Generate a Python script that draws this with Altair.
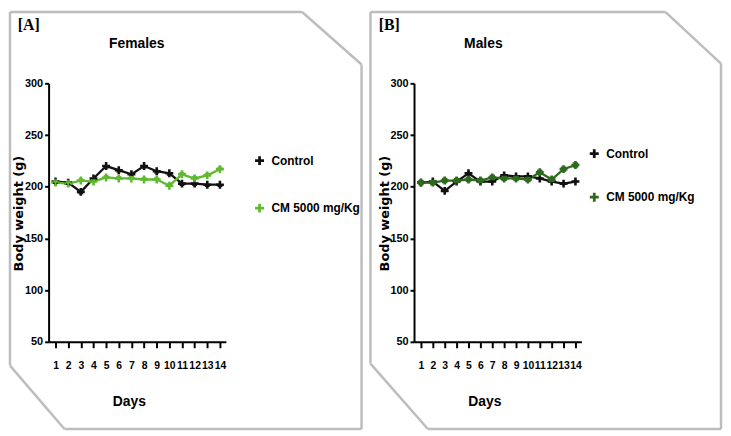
import altair as alt
import pandas as pd

# ---------------- data ----------------
days = list(range(1, 15))
series_names = ["Control", "CM 5000 mg/Kg"]
female_control = [205, 204, 195, 208, 220, 216, 212, 220, 215, 213, 203, 203, 202, 202]
female_cm = [204, 203, 206, 205, 209, 208, 208, 207, 207, 201, 212, 208, 211, 217]
male_control = [204, 205, 196, 205, 213, 205, 205, 211, 210, 210, 208, 205, 203, 205]
male_cm = [204, 204, 206, 206, 207, 206, 209, 208, 208, 207, 214, 207, 217, 221]
y_ticks = [50, 100, 150, 200, 250, 300]
panel_tags = ["[A]", "[B]"]
panel_titles = ["Females", "Males"]
x_title = "Days"
y_title = "Body weight (g)"


def make_df(ctrl, cm):
    return pd.DataFrame({
        "day": days * 2,
        "weight": ctrl + cm,
        "series": [series_names[0]] * len(days) + [series_names[1]] * len(days),
    })


female_df = make_df(female_control, female_cm)
male_df = make_df(male_control, male_cm)

SANS = "Liberation Sans, Arial, sans-serif"
PLUS = "M-1,0L1,0M0,-1L0,1"
FRAME = "#bdbdbd"
H = 426
one = pd.DataFrame({"k": [0]})


def seg(x1, y1, x2, y2):
    return alt.Chart(one).mark_rule(color=FRAME, strokeWidth=2.5).encode(
        x=alt.value(x1), y=alt.value(y1), x2=alt.value(x2), y2=alt.value(y2)
    )


def label(text, x, y, font, size):
    return alt.Chart(pd.DataFrame({"t": [text]})).mark_text(
        font=font, fontSize=size, fontWeight="bold", align="center",
        baseline="middle", color="black"
    ).encode(text="t:N", x=alt.value(x), y=alt.value(y))


def panel(df, colors, shapes, g, idx):
    xs = alt.Scale(domain=g["xdom"], range=g["xrange"], nice=False, zero=False)
    ys = alt.Scale(domain=[50, 300], range=[335, 74], nice=False, zero=False)
    cs = alt.Scale(domain=series_names, range=colors)
    leg = alt.Legend(
        title=None, orient="none", legendX=g["legX"], legendY=g["legY"],
        symbolType=PLUS, symbolSize=81, symbolStrokeWidth=2.8,
        symbolFillColor="transparent",
        labelFont=SANS, labelFontSize=12, labelFontWeight="bold",
        labelColor="black", rowPadding=g["rowPad"], labelOffset=6, padding=0,
    )
    xax = alt.Axis(
        values=days, offset=-(H - 335), title=x_title, titleX=g["xtitleX"], titleY=60,
        titleAlign="center", titleBaseline="middle", titleFont=SANS,
        titleFontSize=14, titleFontWeight="bold", titleColor="black",
        tickSize=6, tickWidth=2, tickColor="black", domainWidth=2, domainColor="black",
        labelFont=SANS, labelFontSize=10.5, labelFontWeight="bold", labelColor="black",
        labelPadding=13, labelOverlap=False, labelFlush=False, grid=False,
    )
    yax = alt.Axis(
        values=y_ticks, offset=g["yoff"], title=y_title, titleX=-30, titleY=205,
        titleAlign="center", titleBaseline="middle", titleFont="DejaVu Sans",
        titleFontSize=13, titleFontWeight="bold", titleColor="black",
        tickSize=4, tickWidth=2, tickColor="black", domainWidth=2, domainColor="black",
        labelFont=SANS, labelFontSize=11, labelFontWeight="bold", labelColor="black",
        labelPadding=2, labelOverlap=False, labelFlush=False, grid=False,
    )
    base = alt.Chart(df).encode(
        x=alt.X("day:Q", scale=xs, axis=xax),
        y=alt.Y("weight:Q", scale=ys, axis=yax),
        color=alt.Color("series:N", scale=cs, legend=leg),
    )
    line = base.mark_line(strokeWidth=2.3)
    plus = base.mark_point(shape=PLUS, size=64, filled=False, strokeWidth=2.6, opacity=1)
    marker_layers = []
    for name, col, shp in zip(series_names, colors, shapes):
        marker_layers.append(
            alt.Chart(df).transform_filter(alt.datum.series == name)
            .mark_point(filled=True, size=30, opacity=1, shape=shp, color=col)
            .encode(x=alt.X("day:Q", scale=xs, axis=xax), y=alt.Y("weight:Q", scale=ys, axis=yax))
        )
    frame = [seg(*s) for s in g["frame"]]
    return alt.layer(
        *frame, line, plus, *marker_layers,
        label(panel_tags[idx], g["tag"][0], g["tag"][1], "Liberation Serif, serif", 16),
        label(panel_titles[idx], g["ttl"][0], g["ttl"][1], SANS, 14),
    ).properties(width=g["W"], height=H)


geo_a = dict(
    W=362, xrange=[41, 220], xdom=[1 - 7 / 12.77, 14 + 6 / 12.77], yoff=-41,
    xtitleX=122, legX=248, legY=146, rowPad=26, tag=(21, 15), ttl=(130, 34),
    frame=[(2, 2, 297, 2), (297, 2, 357, 55), (357, 55, 357, 423),
           (57, 423, 357, 423), (2, 359, 57, 423), (2, 2, 2, 359)],
)
geo_b = dict(
    W=358, xrange=[46, 215], xdom=[1 - 7 / 12.0, 14 + 6 / 12.0], yoff=-46,
    xtitleX=117, legX=222, legY=139, rowPad=22, tag=(21, 15), ttl=(116, 34),
    frame=[(2, 2, 300, 2), (300, 2, 356, 54), (356, 54, 356, 423),
           (60, 423, 356, 423), (2, 357, 60, 423), (2, 2, 2, 357)],
)

pa = panel(female_df, ["#111111", "#5fba2f"], ["triangle-up", "triangle-down"], geo_a, 0)
pb = panel(male_df, ["#111111", "#2e6a1e"], ["diamond", "square"], geo_b, 1)

chart = alt.hconcat(pa, pb, spacing=2).resolve_scale(
    x="independent", y="independent", color="independent"
).properties(padding=0, background="white").configure_view(stroke=None)

chart.save("out.html", embed_options={"renderer": "svg", "actions": False})
